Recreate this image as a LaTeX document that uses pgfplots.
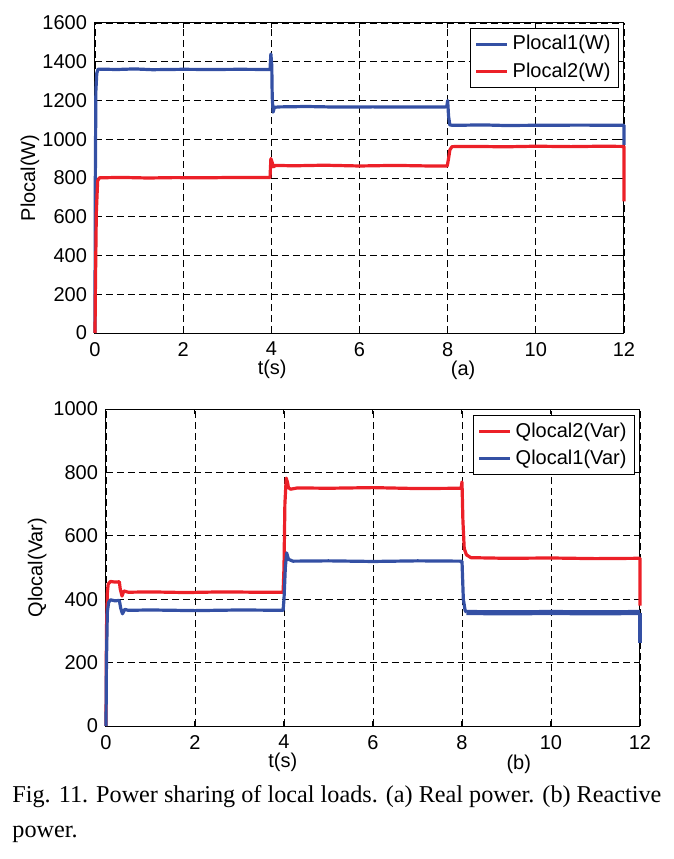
\documentclass[border=0pt]{standalone}
\usepackage{fontspec}
\setmainfont{Liberation Serif}
\newfontfamily\arial{Liberation Sans}
\usepackage{pgfplots}
\pgfplotsset{compat=1.18}
\definecolor{myblue}{RGB}{52,80,164}
\definecolor{myred}{RGB}{236,32,40}
\newcommand\pf{\arial\fontsize{10}{12}\selectfont}
\pgfplotsset{
  mystyle/.style={
    scale only axis,
    anchor=south west,
    clip=false,
    xmin=0, xmax=12,
    xtick={0,2,...,12},
    grid=major,
    major grid style={black, line width=0.4pt, dash pattern=on 3.5pt off 2pt},
    axis line style={black, line width=0.5pt},
    tick align=inside,
    major tick length=2.5pt,
    tick style={black, line width=0.5pt},
    tick label style={font=\pf},
    label style={font=\pf},
    /pgf/number format/assume math mode=true,
    /pgf/number format/1000 sep={},
    xticklabel style={yshift=-1pt},
    yticklabel style={xshift=-0.5pt},
    legend cell align=left,
    legend style={font=\pf, draw=black, line width=0.5pt, inner xsep=2pt, inner ysep=1.5pt, row sep=1pt},
    legend image code/.code={\draw[line width=1.6pt] (0pt,0pt) -- (15.5pt,0pt);},
    every axis plot/.append style={line width=1.6pt, line join=round},
  }
}
\begin{document}
\begin{tikzpicture}
\path[use as bounding box] (0pt,0pt) rectangle (337pt,429.5pt);
% ---------- (a) ----------
\begin{axis}[mystyle,
  at={(47.5pt,263pt)}, width=264.5pt, height=155pt,
  ymin=0, ymax=1600, ytick={0,200,...,1600},
  xlabel={t(s)}, xlabel style={at={(axis description cs:0.335,-0.118)}, anchor=center},
  ylabel={Plocal(W)}, ylabel style={at={(axis description cs:-0.123,0.5)}, anchor=center},
  legend style={at={(0.9905,0.984)}, anchor=north east},
]
\addplot[myblue] coordinates {
(0,0) (0.005,700) (0.02,1250) (0.04,1340) (0.07,1362) (0.5,1360) (0.9,1363) (1.3,1359) (2,1361) (2.6,1360) (3.3,1361) (3.97,1360)
(3.99,1440) (4.01,1380) (4.02,1220) (4.04,1140) (4.07,1165) (4.2,1167) (4.8,1169) (5.5,1166) (6.3,1167) (7.2,1166) (7.98,1167)
(8.0,1200) (8.02,1120) (8.05,1073) (8.2,1072) (8.8,1074) (9.3,1071) (10,1072) (11,1073) (11.98,1072) (12,1072) (12,970)
};
\addlegendentry{Plocal1(W)}
\addplot[myred] coordinates {
(0,0) (0.01,250) (0.03,620) (0.06,785) (0.1,801) (0.6,803) (1.2,800) (1.8,802) (2.5,801) (3.2,803) (3.97,802)
(3.99,900) (4.02,880) (4.05,858) (4.1,865) (4.5,863) (5.2,866) (6,862) (6.8,865) (7.6,862) (7.99,862)
(8.02,900) (8.05,945) (8.1,962) (8.6,963) (9.3,961) (10,964) (10.8,962) (11.5,964) (11.99,963) (12,963) (12,680)
};
\addlegendentry{Plocal2(W)}
\node[font=\pf] at (axis description cs:0.696,-0.122) {(a)};
\end{axis}
% ---------- (b) ----------
\begin{axis}[mystyle,
  at={(53pt,66.5pt)}, width=267pt, height=158.5pt,
  ymin=0, ymax=1000, ytick={0,200,...,1000},
  xlabel={t(s)}, xlabel style={at={(axis description cs:0.331,-0.116)}, anchor=center},
  ylabel={Qlocal(Var)}, ylabel style={at={(axis description cs:-0.129,0.5)}, anchor=center},
  legend style={at={(0.9906,0.981)}, anchor=north east},
]
\addplot[myred] coordinates {
(0,0) (0.01,300) (0.03,420) (0.05,448) (0.1,456) (0.2,454) (0.3,455) (0.32,432) (0.36,410) (0.4,426) (0.5,422) (1,423) (1.8,421) (2.6,423) (3.4,422) (3.98,422)
(4.0,500) (4.02,700) (4.05,782) (4.08,768) (4.1,752) (4.15,747) (4.3,751) (5,750) (6,752) (7,749) (7.98,750)
(8.0,770) (8.02,650) (8.05,560) (8.1,540) (8.2,531) (9,529) (10,530) (11,528) (11.98,529) (12,529) (12,380)
};
\addlegendentry{Qlocal2(Var)}
\addplot[myblue] coordinates {
(0,0) (0.01,200) (0.03,360) (0.06,390) (0.1,398) (0.2,395) (0.3,396) (0.33,372) (0.37,354) (0.42,368) (0.5,365) (1,366) (2,364) (3,366) (3.98,365)
(4.0,400) (4.03,500) (4.06,546) (4.1,526) (4.2,520) (5,521) (6,519) (7,521) (7.98,520)
(8.0,520) (8.03,400) (8.07,365) (8.1,358)
};
\addlegendentry{Qlocal1(Var)}
\addplot[myblue, line width=2.6pt, forget plot] coordinates {
(8.1,358) (9,357) (10,358) (11,357) (12,358)
};
\addplot[myblue, forget plot] coordinates {(12,358) (12,262)};
\node[font=\pf] at (axis description cs:0.773,-0.122) {(b)};
\end{axis}
% caption
\node[anchor=base west, inner sep=0pt, font=\fontsize{12.1}{14}\selectfont] at (6pt,28pt) {Fig. 11. Power sharing of local loads. (a) Real power. (b) Reactive};
\node[anchor=base west, inner sep=0pt, font=\fontsize{12.1}{14}\selectfont] at (6pt,11pt) {power.};
\end{tikzpicture}
\end{document}
